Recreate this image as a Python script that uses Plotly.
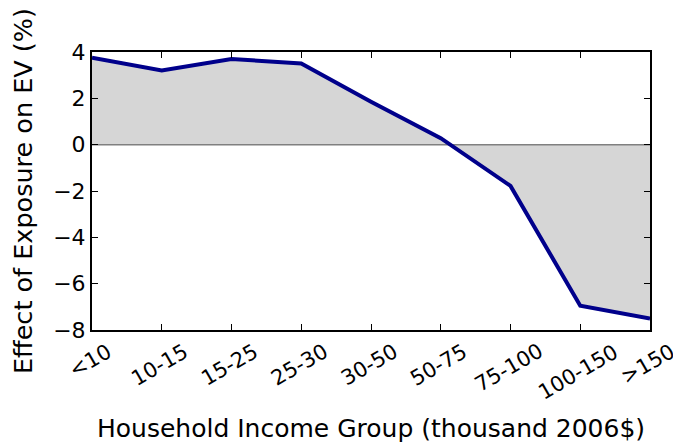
import plotly.graph_objects as go

categories = ["<10", "10-15", "15-25", "25-30", "30-50", "50-75", "75-100", "100-150", ">150"]
effect = [3.75, 3.2, 3.7, 3.5, 1.85, 0.28, -1.78, -6.95, -7.5]
zeros = [0] * len(categories)
y_ticks = [4, 2, 0, -2, -4, -6, -8]

x_idx = list(range(len(categories)))

W, H = 681, 442
ML, MR, MT, MB = 84, 39, 44, 120  # page body adds an 8px offset
PW, PH = W - ML - MR, H - MT - MB

def px_to_paper_y(py):
    return (H - MB - py) / PH

def px_to_paper_x(px):
    return (px - ML) / PW

TICK_FS = 21
GLYPH_W = {"<": 0.838, ">": 0.838, "-": 0.361}

def label_center_offset(lab):
    w = sum(GLYPH_W.get(c, 0.636) for c in lab) * TICK_FS
    h = 0.5 * w + 0.866 * 0.73 * TICK_FS
    return h / 2

fig = go.Figure()
fig.add_trace(go.Scatter(x=x_idx, y=zeros, mode="lines",
                         line=dict(color="#808080", width=1.5), showlegend=False, hoverinfo="skip"))
fig.add_trace(go.Scatter(x=x_idx, y=effect, mode="lines", fill="tonexty",
                         fillcolor="#d6d6d6",
                         line=dict(color="#00008b", width=4), showlegend=False))

annotations = [
    dict(text="Household Income Group (thousand 2006$)", xref="paper", x=0.5,
         yref="paper", y=px_to_paper_y(420), xanchor="center", yanchor="middle",
         showarrow=False, font=dict(size=25)),
    dict(text="Effect of Exposure on EV (%)", xref="paper", x=px_to_paper_x(15),
         yref="paper", y=0.5, xanchor="center", yanchor="middle",
         showarrow=False, textangle=-90, font=dict(size=25.5)),
]
for i, lab in enumerate(categories):
    cy = 335 + label_center_offset(lab)
    annotations.append(dict(text=lab, xref="x", x=i, xshift=-2, yref="paper", y=px_to_paper_y(cy),
                            xanchor="center", yanchor="middle", textangle=-30,
                            showarrow=False, font=dict(size=TICK_FS)))

font = "DejaVu Sans"
fig.update_layout(
    width=W, height=H,
    margin=dict(l=ML, r=MR, t=MT, b=MB, autoexpand=False),
    plot_bgcolor="white", paper_bgcolor="white",
    font=dict(family=font, size=22, color="black"),
    xaxis=dict(
        range=[0, 8], tickmode="array", tickvals=x_idx, ticktext=[""] * len(categories),
        ticks="inside", ticklen=6, tickwidth=1, tickcolor="black",
        showline=True, linecolor="black", linewidth=2, mirror="ticks",
        showgrid=False, zeroline=False, automargin=False,
    ),
    yaxis=dict(
        range=[-8, 4], tickmode="array", tickvals=y_ticks,
        ticktext=[("\u2212" + str(-v)) if v < 0 else str(v) for v in y_ticks],
        ticks="inside", ticklen=6, tickwidth=1, tickcolor="black",
        showline=True, linecolor="black", linewidth=2, mirror="ticks",
        showgrid=False, zeroline=False, automargin=False,
        tickfont=dict(size=22),
    ),
    annotations=annotations,
)
fig.write_html("out.html")
